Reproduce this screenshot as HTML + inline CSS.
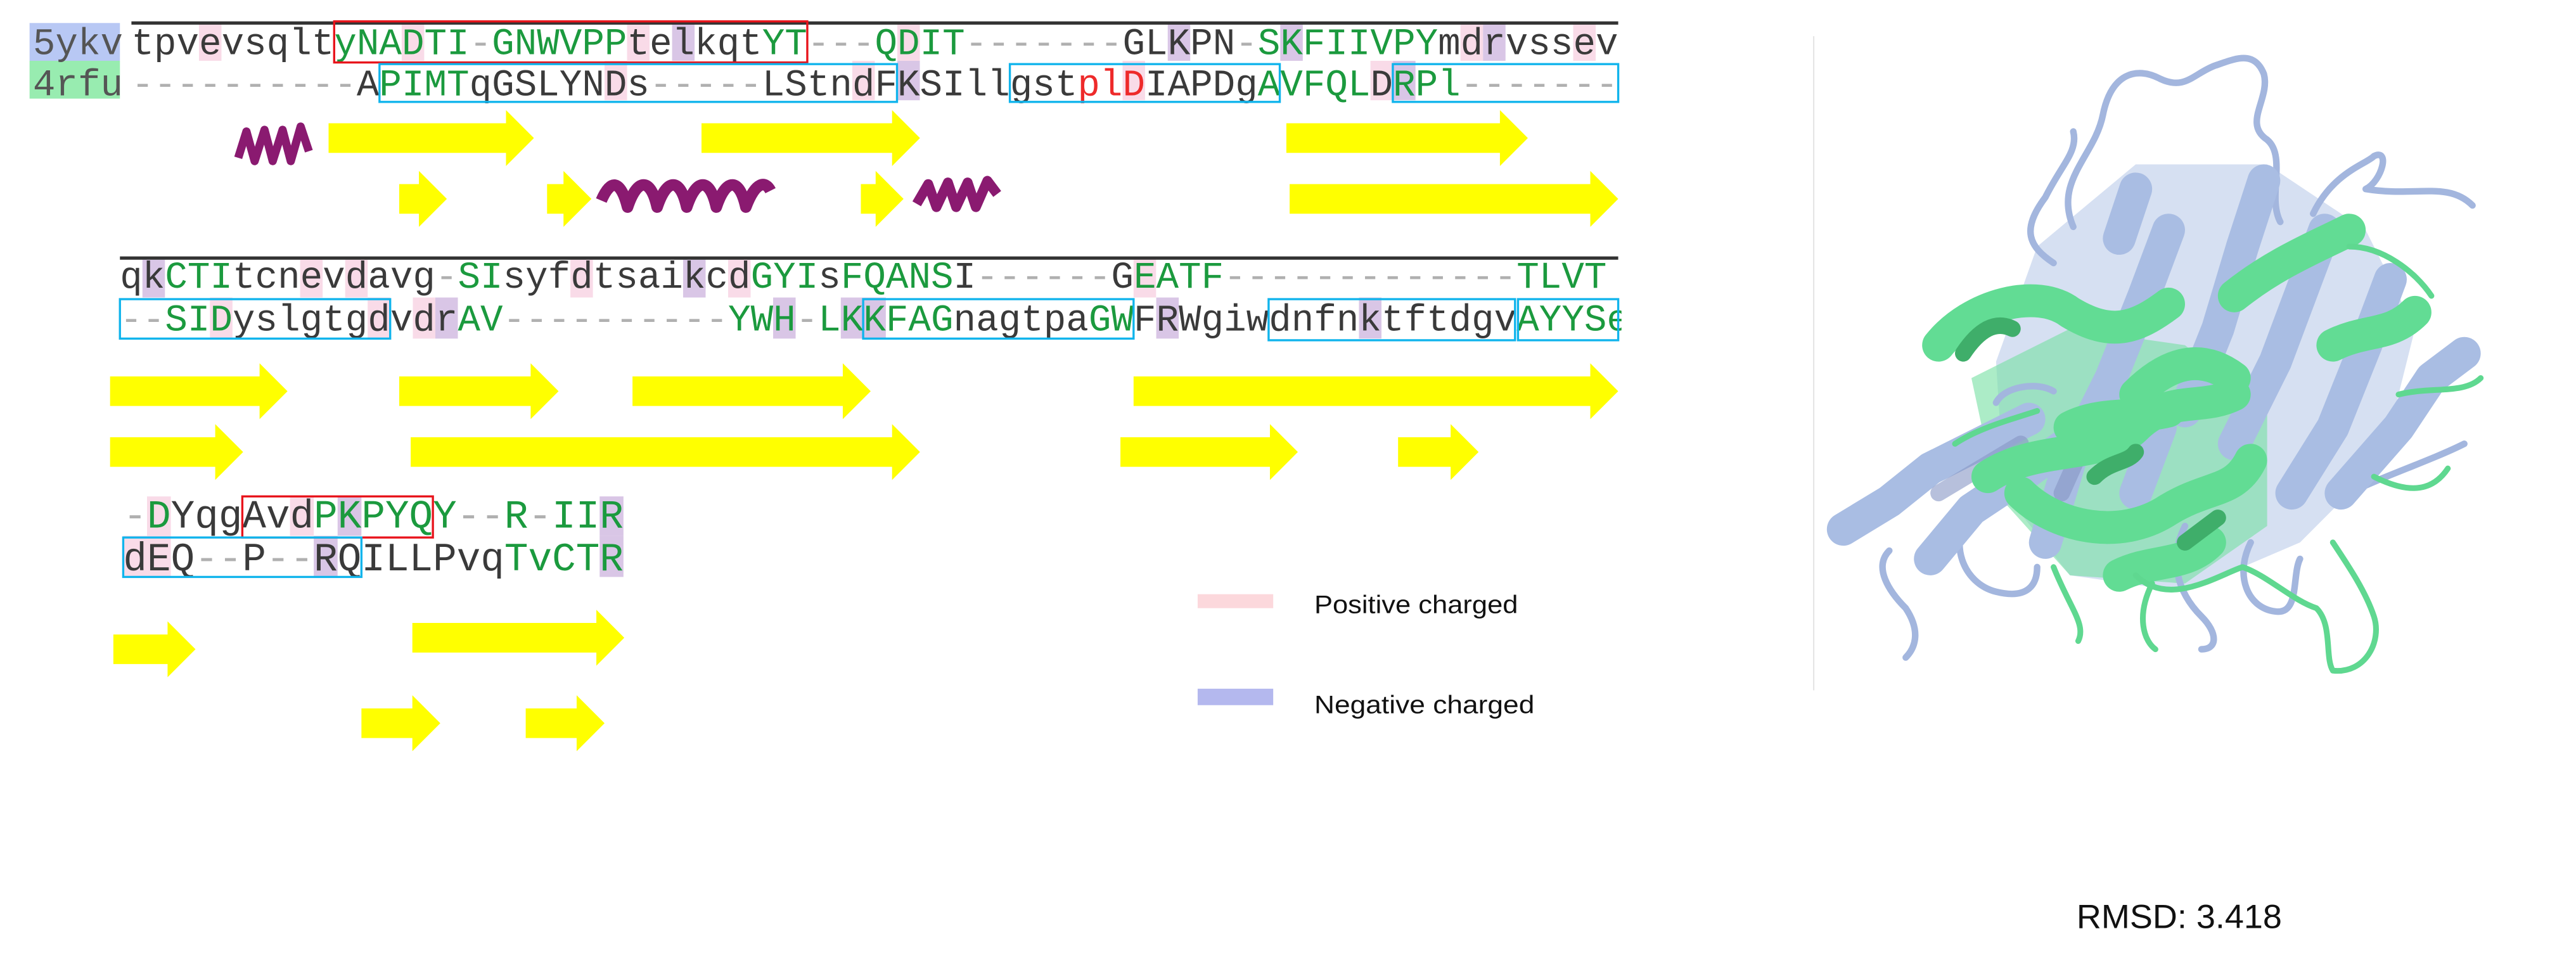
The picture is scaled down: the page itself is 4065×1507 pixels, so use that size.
<!DOCTYPE html>
<html><head><meta charset="utf-8"><style>
html,body{margin:0;padding:0;background:#fff;}
svg{display:block;}
.m{font-family:"Liberation Mono",monospace;}
.g{fill:#1b9a3e}.k{fill:#3a3a3a}.d{fill:#b0b0b0}.r{fill:#ee2a2a}
</style></head><body>
<svg width="4065" height="1507" viewBox="0 0 1568 581" preserveAspectRatio="none" xmlns="http://www.w3.org/2000/svg">
<rect width="1568" height="581" fill="#fff"/>
<rect x="18" y="14" width="55" height="23" fill="#b8c8f4"/>
<rect x="18" y="37" width="55" height="23" fill="#98ecb0"/>
<text class="m" x="20" y="33" font-size="22.85" fill="#555">5ykv</text>
<text class="m" x="20" y="58" font-size="22.85" fill="#555">4rfu</text>

<g fill="#f9dbe8">
<rect x="121.1" y="14" width="13.7" height="23"/><rect x="244.5" y="14" width="13.7" height="23"/><rect x="381.7" y="14" width="13.7" height="23"/><rect x="546.2" y="14" width="13.7" height="23"/><rect x="889" y="14" width="13.7" height="23"/><rect x="957.6" y="14" width="13.7" height="23"/>
<rect x="368" y="37" width="13.7" height="24"/><rect x="518.8" y="37" width="13.7" height="24"/><rect x="683.3" y="37" width="13.7" height="24"/><rect x="834.2" y="37" width="13.7" height="24"/>
<rect x="182.7" y="158" width="13.7" height="23"/><rect x="210.1" y="158" width="13.7" height="23"/><rect x="347.2" y="158" width="13.7" height="23"/><rect x="443.2" y="158" width="13.7" height="23"/><rect x="690" y="158" width="13.7" height="23"/>
<rect x="127.8" y="181" width="13.7" height="25"/><rect x="223.8" y="181" width="13.7" height="25"/><rect x="251.3" y="181" width="13.7" height="25"/>
<rect x="89.5" y="302" width="14.5" height="24"/><rect x="176.5" y="302" width="14.5" height="24"/>
<rect x="75" y="326" width="14.5" height="25"/><rect x="89.5" y="326" width="14.5" height="25"/>
</g>
<g fill="#d9c6e6">
<rect x="409.1" y="14" width="13.7" height="23"/><rect x="710.8" y="14" width="13.7" height="23"/><rect x="779.3" y="14" width="13.7" height="23"/><rect x="902.7" y="14" width="13.7" height="23"/>
<rect x="546.2" y="37" width="13.7" height="24"/><rect x="847.9" y="37" width="13.7" height="24"/>
<rect x="86.7" y="158" width="13.7" height="23"/><rect x="415.8" y="158" width="13.7" height="23"/>
<rect x="265" y="181" width="13.7" height="25"/><rect x="470.6" y="181" width="13.7" height="25"/><rect x="511.8" y="181" width="13.7" height="25"/><rect x="525.5" y="181" width="13.7" height="25"/><rect x="703.8" y="181" width="13.7" height="25"/><rect x="827.2" y="181" width="13.7" height="25"/>
<rect x="205.5" y="302" width="14.5" height="24"/><rect x="365" y="302" width="14.5" height="24"/>
<rect x="191" y="326" width="14.5" height="25"/><rect x="365" y="326" width="14.5" height="25"/>
</g>

<rect x="80" y="13" width="905" height="2" fill="#333"/>
<rect x="73" y="156" width="912" height="2" fill="#333"/>

<text class="m" x="80" y="33" font-size="22.85"><tspan class="k">tpvevsqlt</tspan><tspan class="g">yNADTI</tspan><tspan class="d">-</tspan><tspan class="g">GNWVPP</tspan><tspan class="k">telkqt</tspan><tspan class="g">YT</tspan><tspan class="d">---</tspan><tspan class="g">QDIT</tspan><tspan class="d">-------</tspan><tspan class="k">GLKPN</tspan><tspan class="d">-</tspan><tspan class="g">SKFIIVPY</tspan><tspan class="k">mdrvssev</tspan></text>
<text class="m" x="80" y="58" font-size="22.85"><tspan class="d">----------</tspan><tspan class="k">A</tspan><tspan class="g">PIMT</tspan><tspan class="k">qGSLYNDs</tspan><tspan class="d">-----</tspan><tspan class="k">LStndFKSIllgst</tspan><tspan class="r">plD</tspan><tspan class="k">IAPDg</tspan><tspan class="g">AVFQL</tspan><tspan class="k">D</tspan><tspan class="g">RPl</tspan><tspan class="d">-------</tspan></text>

<text class="m" x="73" y="175" font-size="22.85"><tspan class="k">qk</tspan><tspan class="g">CTI</tspan><tspan class="k">tcnevdavg</tspan><tspan class="d">-</tspan><tspan class="g">SI</tspan><tspan class="k">syfdtsaikcd</tspan><tspan class="g">GYI</tspan><tspan class="k">s</tspan><tspan class="g">FQANS</tspan><tspan class="k">I</tspan><tspan class="d">------</tspan><tspan class="k">G</tspan><tspan class="g">EATF</tspan><tspan class="d">-------------</tspan><tspan class="g">TLVT</tspan></text>
<clipPath id="c2"><rect x="60" y="180" width="927" height="30"/></clipPath>
<text class="m" x="73" y="201" font-size="22.85" clip-path="url(#c2)"><tspan class="d">--</tspan><tspan class="g">SID</tspan><tspan class="k">yslgtgdvdr</tspan><tspan class="g">AV</tspan><tspan class="d">----------</tspan><tspan class="g">YWH</tspan><tspan class="d">-</tspan><tspan class="g">LKKFAG</tspan><tspan class="k">nagtpa</tspan><tspan class="g">GW</tspan><tspan class="k">FRWgiwdnfnktftdgv</tspan><tspan class="g">AYYSe</tspan></text>

<text class="m" x="75" y="321" font-size="24.17"><tspan class="d">-</tspan><tspan class="g">D</tspan><tspan class="k">YqgAvd</tspan><tspan class="g">PKPYQY</tspan><tspan class="d">--</tspan><tspan class="g">R</tspan><tspan class="d">-</tspan><tspan class="g">IIR</tspan></text>
<text class="m" x="75" y="347" font-size="24.17"><tspan class="k">dEQ</tspan><tspan class="d">--</tspan><tspan class="k">P</tspan><tspan class="d">--</tspan><tspan class="k">RQILLPvq</tspan><tspan class="g">TvCTR</tspan></text>

<g fill="none" stroke-width="1.3">
<rect x="203.4" y="13" width="288" height="25" stroke="#e8141c"/>
<rect x="147.5" y="302" width="116" height="25" stroke="#e8141c"/>
<g stroke="#10b4ec">
<rect x="231" y="39" width="315" height="23"/>
<rect x="614.7" y="39" width="164.3" height="23"/>
<rect x="847.8" y="39" width="137.2" height="23"/>
<rect x="73" y="182" width="164.5" height="24"/>
<rect x="525.4" y="182" width="164.6" height="24"/>
<rect x="772.2" y="182" width="150" height="25"/>
<rect x="924" y="182" width="61" height="25"/>
<rect x="75" y="327" width="145" height="24"/>
</g></g>

<g fill="#ffff00">
<polygon points="200,75 308,75 308,67 325,84 308,101 308,93 200,93"/>
<polygon points="427,75 543,75 543,67 560,84 543,101 543,93 427,93"/>
<polygon points="783,75 913,75 913,67 930,84 913,101 913,93 783,93"/>
<polygon points="243,112 255,112 255,104 272,121 255,138 255,130 243,130"/>
<polygon points="333,112 343,112 343,104 360,121 343,138 343,130 333,130"/>
<polygon points="524,112 533,112 533,104 550,121 533,138 533,130 524,130"/>
<polygon points="785,112 968,112 968,104 985,121 968,138 968,130 785,130"/>
<polygon points="67,229 158,229 158,221 175,238 158,255 158,247 67,247"/>
<polygon points="243,229 323,229 323,221 340,238 323,255 323,247 243,247"/>
<polygon points="385,229 513,229 513,221 530,238 513,255 513,247 385,247"/>
<polygon points="690,229 968,229 968,221 985,238 968,255 968,247 690,247"/>
<polygon points="67,266 131,266 131,258 148,275 131,292 131,284 67,284"/>
<polygon points="250,266 543,266 543,258 560,275 543,292 543,284 250,284"/>
<polygon points="682,266 773,266 773,258 790,275 773,292 773,284 682,284"/>
<polygon points="851,266 883,266 883,258 900,275 883,292 883,284 851,284"/>
<polygon points="69,386 102,386 102,378 119,395 102,412 102,404 69,404"/>
<polygon points="251,379 363,379 363,371 380,388 363,405 363,397 251,397"/>
<polygon points="220,431 251,431 251,423 268,440 251,457 251,449 220,449"/>
<polygon points="320,431 351,431 351,423 368,440 351,457 351,449 320,449"/>
</g>

<g fill="none" stroke="#8a1a70" stroke-width="5" stroke-linejoin="round">
<path d="M145,96 L150,80 L155,98 L161,79 L166,98 L172,79 L177,98 L183,77 L188,92"/>
<path d="M366,122 C372,108 378,110 382,126 C388,108 396,108 400,126 C406,108 414,108 418,126 C424,108 432,108 436,126 C442,108 450,108 454,126 C460,110 466,110 469,116" stroke-width="7"/>
<path d="M558,124 L565,112 L570,126 L577,111 L582,126 L589,111 L594,126 L601,110 L607,118" stroke-width="6"/>
</g>

<rect x="729" y="361.5" width="46" height="8.5" fill="#fcd8dc"/>
<rect x="729" y="419" width="46" height="10" fill="#b4b8ee"/>
<text x="800" y="373" font-family="Liberation Sans, sans-serif" font-size="15.5" fill="#111" textLength="124" lengthAdjust="spacingAndGlyphs">Positive charged</text>
<text x="800" y="434" font-family="Liberation Sans, sans-serif" font-size="15.5" fill="#111" textLength="134" lengthAdjust="spacingAndGlyphs">Negative charged</text>

<line x1="1104" y1="22" x2="1104" y2="420" stroke="#e4e4e4" stroke-width="0.8"/>

<g stroke-linecap="round" stroke-linejoin="round" fill="none">
<!-- filled background mass -->
<path d="M1240,150 L1300,100 L1380,100 L1440,140 L1470,200 L1450,280 L1400,330 L1330,360 L1260,350 L1220,300 L1215,220 Z" fill="#b5c6e8" stroke="none" opacity="0.55"/>
<path d="M1200,230 L1260,200 L1330,210 L1380,250 L1380,320 L1330,355 L1260,350 L1215,300 Z" fill="#74e0a2" stroke="none" opacity="0.6"/>
<g stroke="#a3b6de" stroke-width="4">
<path d="M1262,138 C1250,110 1275,95 1280,70 C1285,45 1300,40 1315,48 C1330,55 1335,45 1348,40 C1360,36 1372,30 1378,45 C1382,60 1365,75 1380,85 C1392,95 1380,120 1388,135"/>
<path d="M1408,130 C1420,105 1440,100 1445,95 C1455,90 1450,110 1440,115 C1470,120 1490,110 1505,125"/>
<path d="M1250,160 C1235,150 1230,140 1245,120 C1255,100 1265,92 1262,80"/>
<path d="M1150,335 C1140,345 1150,360 1160,370 C1170,385 1165,395 1160,400"/>
<path d="M1200,310 C1185,330 1195,355 1215,360 C1235,365 1240,355 1240,345"/>
<path d="M1330,320 C1320,340 1325,360 1340,375 C1350,385 1350,395 1340,395"/>
<path d="M1370,330 C1360,350 1368,370 1385,372 C1400,374 1395,350 1400,340"/>
<path d="M1430,300 C1450,290 1480,280 1500,270"/>
<path d="M1215,245 C1220,235 1240,232 1250,238"/>
</g>
<g stroke="#a9bde3" stroke-width="20">
<path d="M1122,322 L1150,305 L1175,285 L1205,270 L1235,255"/>
<path d="M1175,340 L1200,310 L1230,290 L1265,265"/>
<path d="M1245,330 L1260,280 L1285,230 L1305,180 L1320,140"/>
<path d="M1330,250 L1350,200 L1365,150 L1378,110"/>
<path d="M1360,270 L1385,220 L1400,180 L1415,140"/>
<path d="M1395,300 L1420,260 L1440,210 L1455,170"/>
<path d="M1425,300 L1460,260 L1480,230 L1500,215"/>
<path d="M1290,145 L1300,115"/>
<path d="M1300,300 L1315,260"/>
</g>
<g stroke="#8796c4" stroke-width="10" opacity="0.6">
<path d="M1180,300 L1230,270"/>
<path d="M1255,300 L1275,255"/>
</g>
<g stroke="#62dc94" stroke-width="20">
<path d="M1180,210 C1200,185 1240,175 1260,190 C1285,205 1300,200 1320,185"/>
<path d="M1210,290 C1240,270 1280,280 1300,260 C1320,240 1340,250 1360,240"/>
<path d="M1230,300 C1250,320 1290,330 1320,310 C1345,295 1360,300 1370,280"/>
<path d="M1300,240 C1320,220 1340,215 1360,230"/>
<path d="M1360,180 C1385,160 1410,150 1430,140"/>
<path d="M1420,210 C1440,200 1455,205 1470,190"/>
<path d="M1290,350 C1310,340 1330,345 1345,330"/>
<path d="M1260,260 C1280,250 1300,255 1320,250"/>
</g>
<g stroke="#3fae6a" stroke-width="10">
<path d="M1195,215 C1205,200 1215,195 1225,200"/>
<path d="M1275,290 C1285,280 1295,282 1300,275"/>
<path d="M1330,330 L1350,315"/>
</g>
<g stroke="#5fd890" stroke-width="3.5">
<path d="M1190,270 C1205,260 1225,255 1240,250"/>
<path d="M1300,350 C1320,370 1350,350 1365,345 C1380,350 1395,365 1410,370 C1420,380 1415,400 1420,408 C1440,410 1450,390 1445,375 C1440,360 1430,345 1420,330"/>
<path d="M1460,240 C1480,235 1500,240 1510,230"/>
<path d="M1430,150 C1450,150 1470,165 1480,180"/>
<path d="M1250,345 C1260,370 1270,380 1265,390"/>
<path d="M1310,355 C1300,375 1305,390 1312,395"/>
<path d="M1445,290 C1465,300 1480,300 1490,285"/>
</g>
</g>

<text x="1264" y="564.7" font-family="Liberation Sans, sans-serif" font-size="20.5" fill="#111" textLength="125" lengthAdjust="spacingAndGlyphs">RMSD: 3.418</text>
</svg>
</body></html>
